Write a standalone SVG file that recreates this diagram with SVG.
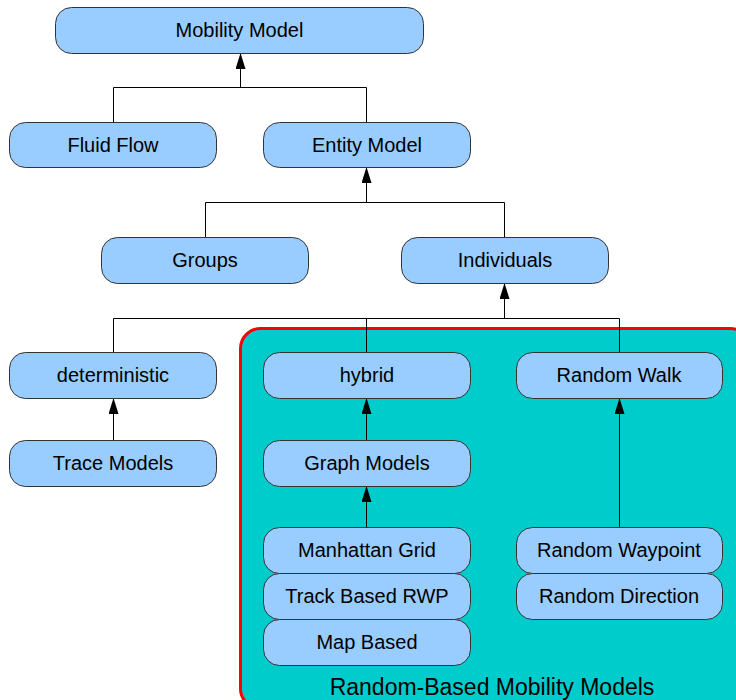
<svg xmlns="http://www.w3.org/2000/svg" width="736" height="700" viewBox="0 0 736 700">
<style>
.n rect{fill:#99CCFF;stroke:#333;stroke-width:1}
.n text{font-family:"Liberation Sans",Arial,sans-serif;font-size:20px;fill:#000;text-anchor:middle}
.c path{fill:none;stroke:#000;stroke-width:1}
</style>
<defs>
<marker id="ah" markerWidth="16" markerHeight="10" refX="16" refY="5" orient="auto" markerUnits="userSpaceOnUse" viewBox="0 0 16 10">
<path d="M0,0 L16,5 L0,10 Z" fill="#000"/>
</marker>
</defs>
<rect x="240.5" y="328.5" width="510" height="380" rx="20" fill="#00CCCC" stroke="#FF0000" stroke-width="3"/>
<text x="492" y="695" font-family="'Liberation Sans',Arial,sans-serif" font-size="23" text-anchor="middle" fill="#000">Random-Based Mobility Models</text>
<g class="c">
<path d="M113.5,122 V87.5 H366.5 V122"/>
<path d="M240.5,87.5 V53" marker-end="url(#ah)"/>
<path d="M205.5,237 V202.5 H504.5 V237"/>
<path d="M366.5,202.5 V167" marker-end="url(#ah)"/>
<path d="M113.5,352 V318.5 H619.5 V352"/>
<path d="M366.5,318.5 V352"/>
<path d="M504.5,318.5 V283" marker-end="url(#ah)"/>
<path d="M113.5,440 V398" marker-end="url(#ah)"/>
<path d="M366.5,440 V398" marker-end="url(#ah)"/>
<path d="M366.5,527 V486" marker-end="url(#ah)"/>
<path d="M619.5,527 V398" marker-end="url(#ah)"/>
</g>
<g id="mobility" class="n"><rect x="55.5" y="7.5" width="368" height="46" rx="16"/><text x="239.5" y="37">Mobility Model</text></g>
<g id="fluid" class="n"><rect x="9.5" y="122.5" width="207" height="45" rx="16"/><text x="113" y="152">Fluid Flow</text></g>
<g id="entity" class="n"><rect x="263.5" y="122.5" width="207" height="45" rx="16"/><text x="367" y="152">Entity Model</text></g>
<g id="groups" class="n"><rect x="101.5" y="237.5" width="207" height="46" rx="16"/><text x="205" y="267">Groups</text></g>
<g id="individuals" class="n"><rect x="401.5" y="237.5" width="207" height="46" rx="16"/><text x="505" y="267">Individuals</text></g>
<g id="deterministic" class="n"><rect x="9.5" y="352.5" width="207" height="46" rx="16"/><text x="113" y="382">deterministic</text></g>
<g id="hybrid" class="n"><rect x="263.5" y="352.5" width="207" height="46" rx="16"/><text x="367" y="382">hybrid</text></g>
<g id="randomwalk" class="n"><rect x="516.5" y="352.5" width="206" height="46" rx="16"/><text x="619" y="382">Random Walk</text></g>
<g id="trace" class="n"><rect x="9.5" y="440.5" width="207" height="46" rx="16"/><text x="113" y="470">Trace Models</text></g>
<g id="graph" class="n"><rect x="263.5" y="440.5" width="207" height="46" rx="16"/><text x="367" y="470">Graph Models</text></g>
<g id="manhattan" class="n"><rect x="263.5" y="527.5" width="207" height="46" rx="16"/><text x="367" y="557">Manhattan Grid</text></g>
<g id="track" class="n"><rect x="263.5" y="573.5" width="207" height="46" rx="16"/><text x="367" y="603">Track Based RWP</text></g>
<g id="map" class="n"><rect x="263.5" y="619.5" width="207" height="46" rx="16"/><text x="367" y="649">Map Based</text></g>
<g id="waypoint" class="n"><rect x="516.5" y="527.5" width="206" height="46" rx="16"/><text x="619" y="557">Random Waypoint</text></g>
<g id="direction" class="n"><rect x="516.5" y="573.5" width="206" height="46" rx="16"/><text x="619" y="603">Random Direction</text></g>
</svg>
